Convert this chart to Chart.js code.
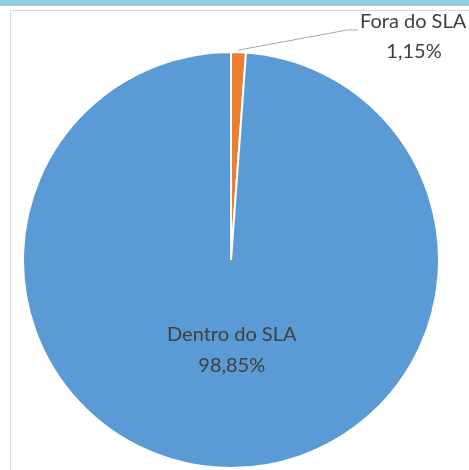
<!DOCTYPE html>
<html>
<head>
<meta charset="utf-8">
<script src="https://cdn.jsdelivr.net/npm/chart.js@4"></script>
<style>
  body { margin: 0; background: #fff; width: 469px; height: 470px; overflow: hidden; position: relative; }
  #faixa { position: absolute; left: 0; top: 0; width: 469px; height: 6px; background: #92cddc; }
  #moldura { position: absolute; left: 10px; top: 10px; width: 480px; height: 480px; border-left: 1px solid #d9d9d9; border-top: 1px solid #d9d9d9; }
  #grafico { position: absolute; left: 0; top: 0; }
</style>
</head>
<body>
<div id="faixa"></div>
<div id="moldura"></div>
<canvas id="grafico" width="469" height="470"></canvas>
<script>
// dados do grafico
var categorias = ['Fora do SLA', 'Dentro do SLA'];
var valores = [1.15, 98.85];
var rotulos = ['1,15%', '98,85%'];
var cores = ['#ed7d31', '#5b9bd5'];

var fonte = '20px Lato, "Open Sans", sans-serif';

// desenha os rotulos como no excel
var rotulosPlugin = {
    id: 'rotulos',
    afterDatasetsDraw: function(chart) {
        var c = chart.ctx;
        var arcos = chart.getDatasetMeta(0).data;
        c.save();
        c.font = fonte;
        c.fillStyle = '#404040';
        c.textAlign = 'center';
        c.textBaseline = 'middle';

        // fatia grande: rotulo dentro
        var a = arcos[1];
        var meio = (a.startAngle + a.endAngle) / 2;
        var d = a.outerRadius * 0.43;
        var x = a.x + Math.cos(meio) * d + 4;
        var y = a.y + Math.sin(meio) * d;
        c.fillText(categorias[1], x, y - 15);
        c.fillText(rotulos[1], x, y + 16);

        // fatia pequena: rotulo fora com linha
        var b = arcos[0];
        var m2 = (b.startAngle + b.endAngle) / 2;
        var x0 = b.x + Math.cos(m2) * b.outerRadius;
        var y0 = b.y + Math.sin(m2) * b.outerRadius;
        c.strokeStyle = '#a6a6a6';
        c.lineWidth = 1;
        c.beginPath();
        c.moveTo(x0, y0 - 2);
        c.lineTo(347, 30);
        c.lineTo(358, 30);
        c.stroke();
        c.textAlign = 'left';
        c.fillText(categorias[0], 360, 22);
        c.textAlign = 'center';
        c.fillText(rotulos[0], 414, 52);
        c.restore();
    }
};

var grafico = new Chart(document.getElementById('grafico').getContext('2d'), {
    type: 'pie',
    data: {
        labels: categorias,
        datasets: [{
            data: valores,
            backgroundColor: cores,
            borderColor: '#ffffff',
            borderWidth: 2
        }]
    },
    options: {
        responsive: false,
        animation: false,
        layout: { padding: { left: 22, right: 29, top: 51, bottom: 1 } },
        plugins: {
            legend: { display: false },
            tooltip: { enabled: false }
        }
    },
    plugins: [rotulosPlugin]
});
</script>
</body>
</html>
